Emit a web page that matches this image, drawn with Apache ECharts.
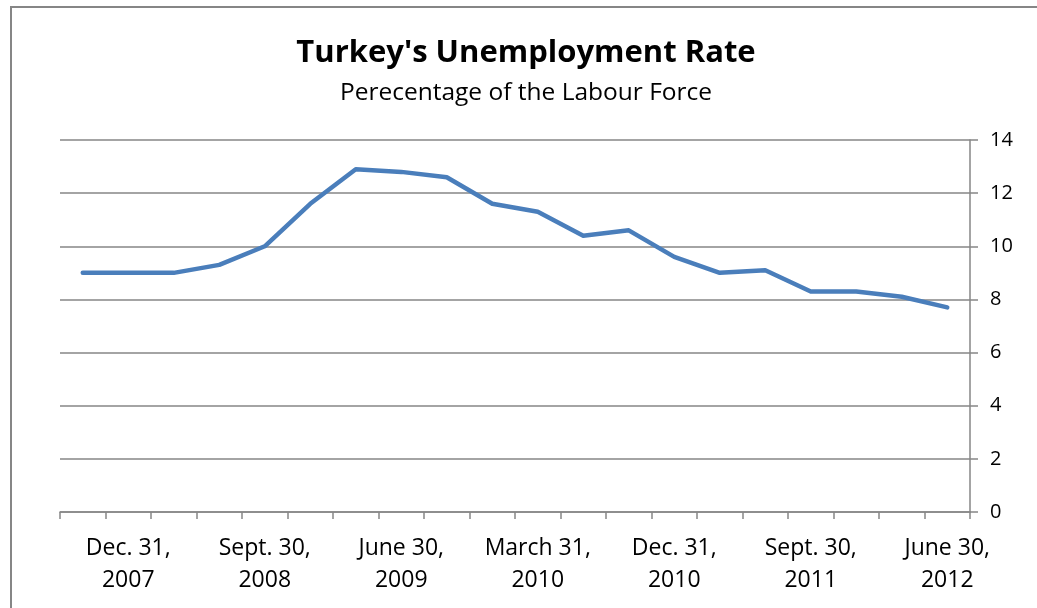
<!DOCTYPE html>
<html>
<head>
<meta charset="utf-8">
<script src="https://cdn.jsdelivr.net/npm/echarts@6/dist/echarts.min.js"></script>
<style>
  html, body { margin: 0; padding: 0; background: #ffffff; }
  #chart { width: 1037px; height: 608px; }
</style>
</head>
<body>
<div id="chart"></div>
<script>
// Quarter-end dates, Sept. 2007 to June 2012
const quarters = [
  'Sept. 30, 2007', 'Dec. 31, 2007', 'March 31, 2008', 'June 30, 2008',
  'Sept. 30, 2008', 'Dec. 31, 2008', 'March 31, 2009', 'June 30, 2009',
  'Sept. 30, 2009', 'Dec. 31, 2009', 'March 31, 2010', 'June 30, 2010',
  'Sept. 30, 2010', 'Dec. 31, 2010', 'March 31, 2011', 'June 30, 2011',
  'Sept. 30, 2011', 'Dec. 31, 2011', 'March 31, 2012', 'June 30, 2012'
];
// Unemployment rate, % of labour force
const unemploymentRate = [
  9.0, 9.0, 9.0, 9.3, 10.0, 11.6, 12.9, 12.8, 12.6, 11.6,
  11.3, 10.4, 10.6, 9.6, 9.0, 9.1, 8.3, 8.3, 8.1, 7.7
];
const yTicks = { min: 0, max: 14, interval: 2 };

const FONT = '"Open Sans", Lato, sans-serif';
const GRAY = '#868686';

const chart = echarts.init(document.getElementById('chart'), null, { renderer: 'canvas' });
chart.setOption({
  animation: false,
  backgroundColor: '#ffffff',
  title: [{
    text: "Turkey's Unemployment Rate",
    left: 526,
    top: 53,
    textAlign: 'center',
    textVerticalAlign: 'middle',
    padding: 0,
    textStyle: { fontFamily: FONT, fontSize: 31, fontWeight: 'bold', color: '#000000' }
  }, {
    text: 'Perecentage of the Labour Force',
    left: 526,
    top: 93,
    textAlign: 'center',
    textVerticalAlign: 'middle',
    padding: 0,
    textStyle: { fontFamily: FONT, fontSize: 24.5, fontWeight: 'normal', color: '#000000' }
  }],
  graphic: [{
    type: 'rect',
    shape: { x: 11, y: 7, width: 1100, height: 700 },
    style: { fill: 'none', stroke: GRAY, lineWidth: 2 },
    silent: true
  }],
  grid: { left: 60, right: 67, top: 140, bottom: 96 },
  xAxis: {
    type: 'category',
    data: quarters,
    boundaryGap: true,
    axisLine: { show: true, lineStyle: { color: GRAY, width: 1.5 } },
    axisTick: { show: true, interval: 0, length: 7, lineStyle: { color: GRAY, width: 1.5 } },
    axisLabel: {
      interval: (i) => i % 3 === 1,
      formatter: (v) => v.replace(', ', ',\n'),
      fontFamily: FONT,
      fontSize: 23,
      lineHeight: 32,
      color: '#000000',
      margin: 20
    },
    splitLine: { show: false }
  },
  yAxis: {
    type: 'value',
    position: 'right',
    min: yTicks.min,
    max: yTicks.max,
    interval: yTicks.interval,
    axisLine: { show: true, lineStyle: { color: GRAY, width: 1.5 } },
    axisTick: { show: true, inside: false, length: 8, lineStyle: { color: GRAY, width: 1.5 } },
    axisLabel: { fontFamily: FONT, fontSize: 20, color: '#000000', margin: 20 },
    splitLine: { show: true, lineStyle: { color: GRAY, width: 1.5 } }
  },
  series: [{
    type: 'line',
    data: unemploymentRate,
    showSymbol: false,
    symbol: 'none',
    lineStyle: { color: '#4a7ebb', width: 4.5, cap: 'round', join: 'round' },
    itemStyle: { color: '#4a7ebb' }
  }]
});
</script>
</body>
</html>
